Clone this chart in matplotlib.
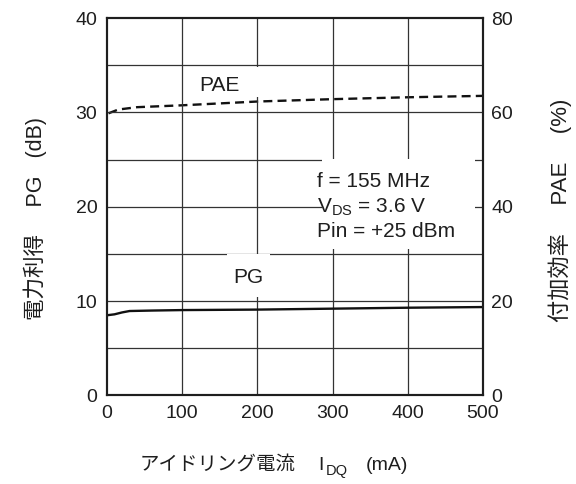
import matplotlib.pyplot as plt
from matplotlib.patches import Rectangle

plt.rcParams['font.family'] = ['Liberation Sans', 'Noto Sans CJK JP', 'DejaVu Sans']
plt.rcParams['mathtext.fontset'] = 'custom'
plt.rcParams['mathtext.rm'] = 'Liberation Sans'
plt.rcParams['mathtext.it'] = 'Liberation Sans:italic'

# idle current sweep (mA)
idq_pg = [0, 10, 20, 30, 60, 100, 200, 300, 400, 500]
pg_db = [8.5, 8.6, 8.8, 8.95, 9.0, 9.05, 9.1, 9.2, 9.3, 9.37]

idq_pae = [2, 15, 40, 100, 200, 300, 400, 500]
pae_pct = [59.8, 60.6, 61.1, 61.5, 62.3, 62.8, 63.2, 63.5]

x_ticks = [0, 100, 200, 300, 400, 500]
pg_ticks = [0, 10, 20, 30, 40]
pae_ticks = [0, 20, 40, 60, 80]

conditions = ['f = 155 MHz', 'V$_{\\mathrm{DS}}$ = 3.6 V', 'Pin = +25 dBm']

tick_fs = 14
note_fs = 15
ink = '#1e1e1e'
grid_color = '#333333'

fig = plt.figure(figsize=(5.76, 4.84), dpi=100)
ax = fig.add_axes([0.1858, 0.1829, 0.6527, 0.7799])
ax2 = ax.twinx()

ax.set_xlim(0, 500)
ax.set_ylim(0, 40)
ax2.set_ylim(0, 80)

# grid: every 100 mA and every 5 dB
for xv in range(100, 500, 100):
    ax.axvline(xv, color=grid_color, lw=0.9, zorder=1)
for yv in range(5, 40, 5):
    ax.axhline(yv, color=grid_color, lw=0.9, zorder=1)

# white knock-outs behind the annotations
for (x0, y0, w, h) in [(120, 31.6, 90, 3.2), (160, 10.45, 57, 4.5), (286, 15.5, 203, 9.55)]:
    ax.add_patch(Rectangle((x0, y0), w, h, facecolor='white', edgecolor='none', zorder=2))

ax.plot(idq_pg, pg_db, color='#111111', lw=1.7, zorder=4)
ax2.plot(idq_pae, pae_pct, color='#111111', lw=1.7, dashes=(3.8, 2.2), zorder=4)

ax.set_xticks(x_ticks)
ax.set_yticks(pg_ticks)
ax2.set_yticks(pae_ticks)
ax.tick_params(axis='both', length=0, labelsize=tick_fs, colors=ink)
ax.tick_params(axis='y', pad=7)
ax.tick_params(axis='x', pad=7)
ax2.tick_params(axis='y', length=0, labelsize=tick_fs, colors=ink, pad=6)

for a in (ax, ax2):
    for s in a.spines.values():
        s.set_linewidth(1.5)
        s.set_color(ink)
        s.set_zorder(5)

ax.set_zorder(ax2.get_zorder() + 1)
ax.patch.set_visible(False)

ax.text(150, 32.9, 'PAE', fontsize=note_fs, ha='center', va='center', color=ink, zorder=3)
ax.text(187.5, 12.55, 'PG', fontsize=note_fs, ha='center', va='center', color=ink, zorder=3)
for line, yb in zip(conditions, [22.1, 19.4, 16.8]):
    ax.text(279, yb, line, fontsize=note_fs, ha='left', va='baseline', color=ink, zorder=3)

# axis titles
fig.text(35 / 576, 1 - 218 / 484, '電力利得　 PG   (dB)', rotation=90, fontsize=15.5,
         ha='center', va='center', color=ink)
fig.text(560 / 576, 1 - 210 / 484, '付加効率　 PAE　 (%)', rotation=90, fontsize=16,
         ha='center', va='center', color=ink)

base = 1 - 470 / 484
fig.text(140 / 576, base, 'アイドリング電流', fontsize=14, ha='left', va='baseline', color=ink)
fig.text(318 / 576, base, 'I', fontsize=14, ha='left', va='baseline', color=ink)
fig.text(326 / 576, base - 5 / 484, 'DQ', fontsize=10.5, ha='left', va='baseline', color=ink)
fig.text(366 / 576, base, '(mA)', fontsize=14, ha='left', va='baseline', color=ink)

fig.savefig('out.png', dpi=100)
